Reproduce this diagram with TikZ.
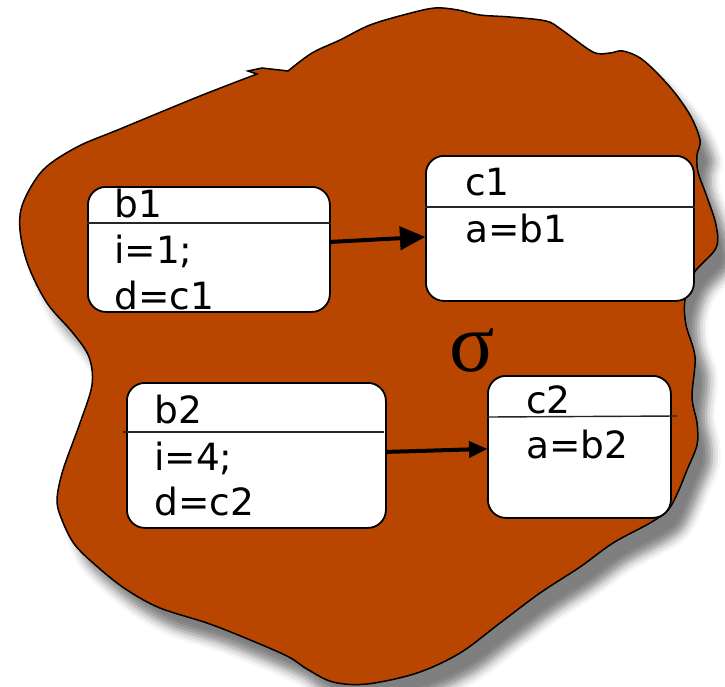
\documentclass[tikz,border=0pt]{standalone}
\usepackage{fontspec}
\newfontfamily\boxfont{DejaVu Sans}
\newfontfamily\sigmafont{Liberation Serif}
\usetikzlibrary{shadows.blur,arrows.meta}
\definecolor{blobfill}{RGB}{184,70,0}
\begin{document}
\begin{tikzpicture}[x=1pt,y=-1pt,
  box/.style={draw=black, line width=1.8pt, fill=white, rounded corners=18pt, anchor=north west, inner sep=0pt},
  lbl/.style={anchor=base west, inner sep=0pt, font=\boxfont\fontsize{37.5}{44}\selectfont},
  divider/.style={draw=black!85, line width=1.4pt},
  link/.style={line width=4pt}]
\useasboundingbox (0,0) rectangle (725,686);
% blob with shadow
\path[fill=blobfill, draw=black, line width=1.5pt,
  blur shadow={shadow xshift=14pt, shadow yshift=-20pt, shadow blur radius=9pt, shadow opacity=50}]
  plot[smooth, tension=0.55] coordinates {
  (288,71) (312,53) (340,40) (370,25) (407,14) (435,8) (458,10) (480,15) (510,17) (546,21) (562,30)
  (593,52) (610,53) (623,51) (643,60) (670,87) (690,115) (700,140) (697,155) (698,172) (707,197)
  (716,225) (716,248) (694,273) (685,300) (686,325) (695,357) (692,397) (697,423) (697,445)
  (687,470) (678,492) (668,510) (650,523) (613,543) (580,567) (540,593) (500,623) (460,653)
  (417,673) (367,684) (333,682) (307,669) (287,656) (243,637) (207,623) (160,608) (127,590)
  (100,569) (75,545) (62,520) (57,500) (63,470) (80,423) (92,385) (89,357) (73,333) (47,303)
  (28,265) (20,230) (23,203) (43,170) (77,147) (120,129) (200,96) (257,74)}
  -- (248,71) -- (262,68) -- cycle;
% boxes
\node[box, minimum width=242pt, minimum height=125pt] (b1) at (87,186) {};
\node[box, minimum width=268pt, minimum height=145pt] (c1) at (425,155) {};
\node[box, minimum width=259pt, minimum height=145pt] (b2) at (126,382) {};
\node[box, minimum width=183pt, minimum height=142pt] (c2) at (487,375) {};
% dividers
\draw[divider] ([yshift=-37pt]b1.north west) -- ([yshift=-37pt]b1.north east);
\draw[divider] ([yshift=-52pt]c1.north west) -- ([yshift=-52pt]c1.north east);
\draw[divider] ([xshift=-3pt,yshift=-50pt]b2.north west) -- ([xshift=-3pt,yshift=-50pt]b2.north east);
\draw[divider] ([yshift=-42pt]c2.north west) -- ([xshift=5pt,yshift=-41pt]c2.north east);
% labels
\node[lbl] (b1t) at (114,217) {b1};
\node[lbl] (b1i) at (114,263) {i=1;};
\node[lbl] (b1d) at (114,309) {d=c1};
\node[lbl] (c1t) at (465,195) {c1};
\node[lbl] (c1a) at (465,242) {a=b1};
\node[lbl] (b2t) at (154,423) {b2};
\node[lbl] (b2i) at (154,470) {i=4;};
\node[lbl] (b2d) at (154,515) {d=c2};
\node[lbl] (c2t) at (526,413) {c2};
\node[lbl] (c2a) at (526,458) {a=b2};
\node[inner sep=0pt, font=\sigmafont\fontsize{84}{88}\selectfont] (sig) at (472,350) {σ};
% arrows
\draw[link, -{Triangle[length=25pt,width=24pt,fill=black,line width=0.5pt]}] ([yshift=7.5pt]b1.east) -- ([yshift=-8.5pt]c1.west);
\draw[link, -{Triangle[length=18pt,width=17pt,fill=black,line width=0.5pt]}] ([yshift=3.5pt]b2.east) -- ([yshift=-2pt]c2.west);
\end{tikzpicture}
\end{document}
